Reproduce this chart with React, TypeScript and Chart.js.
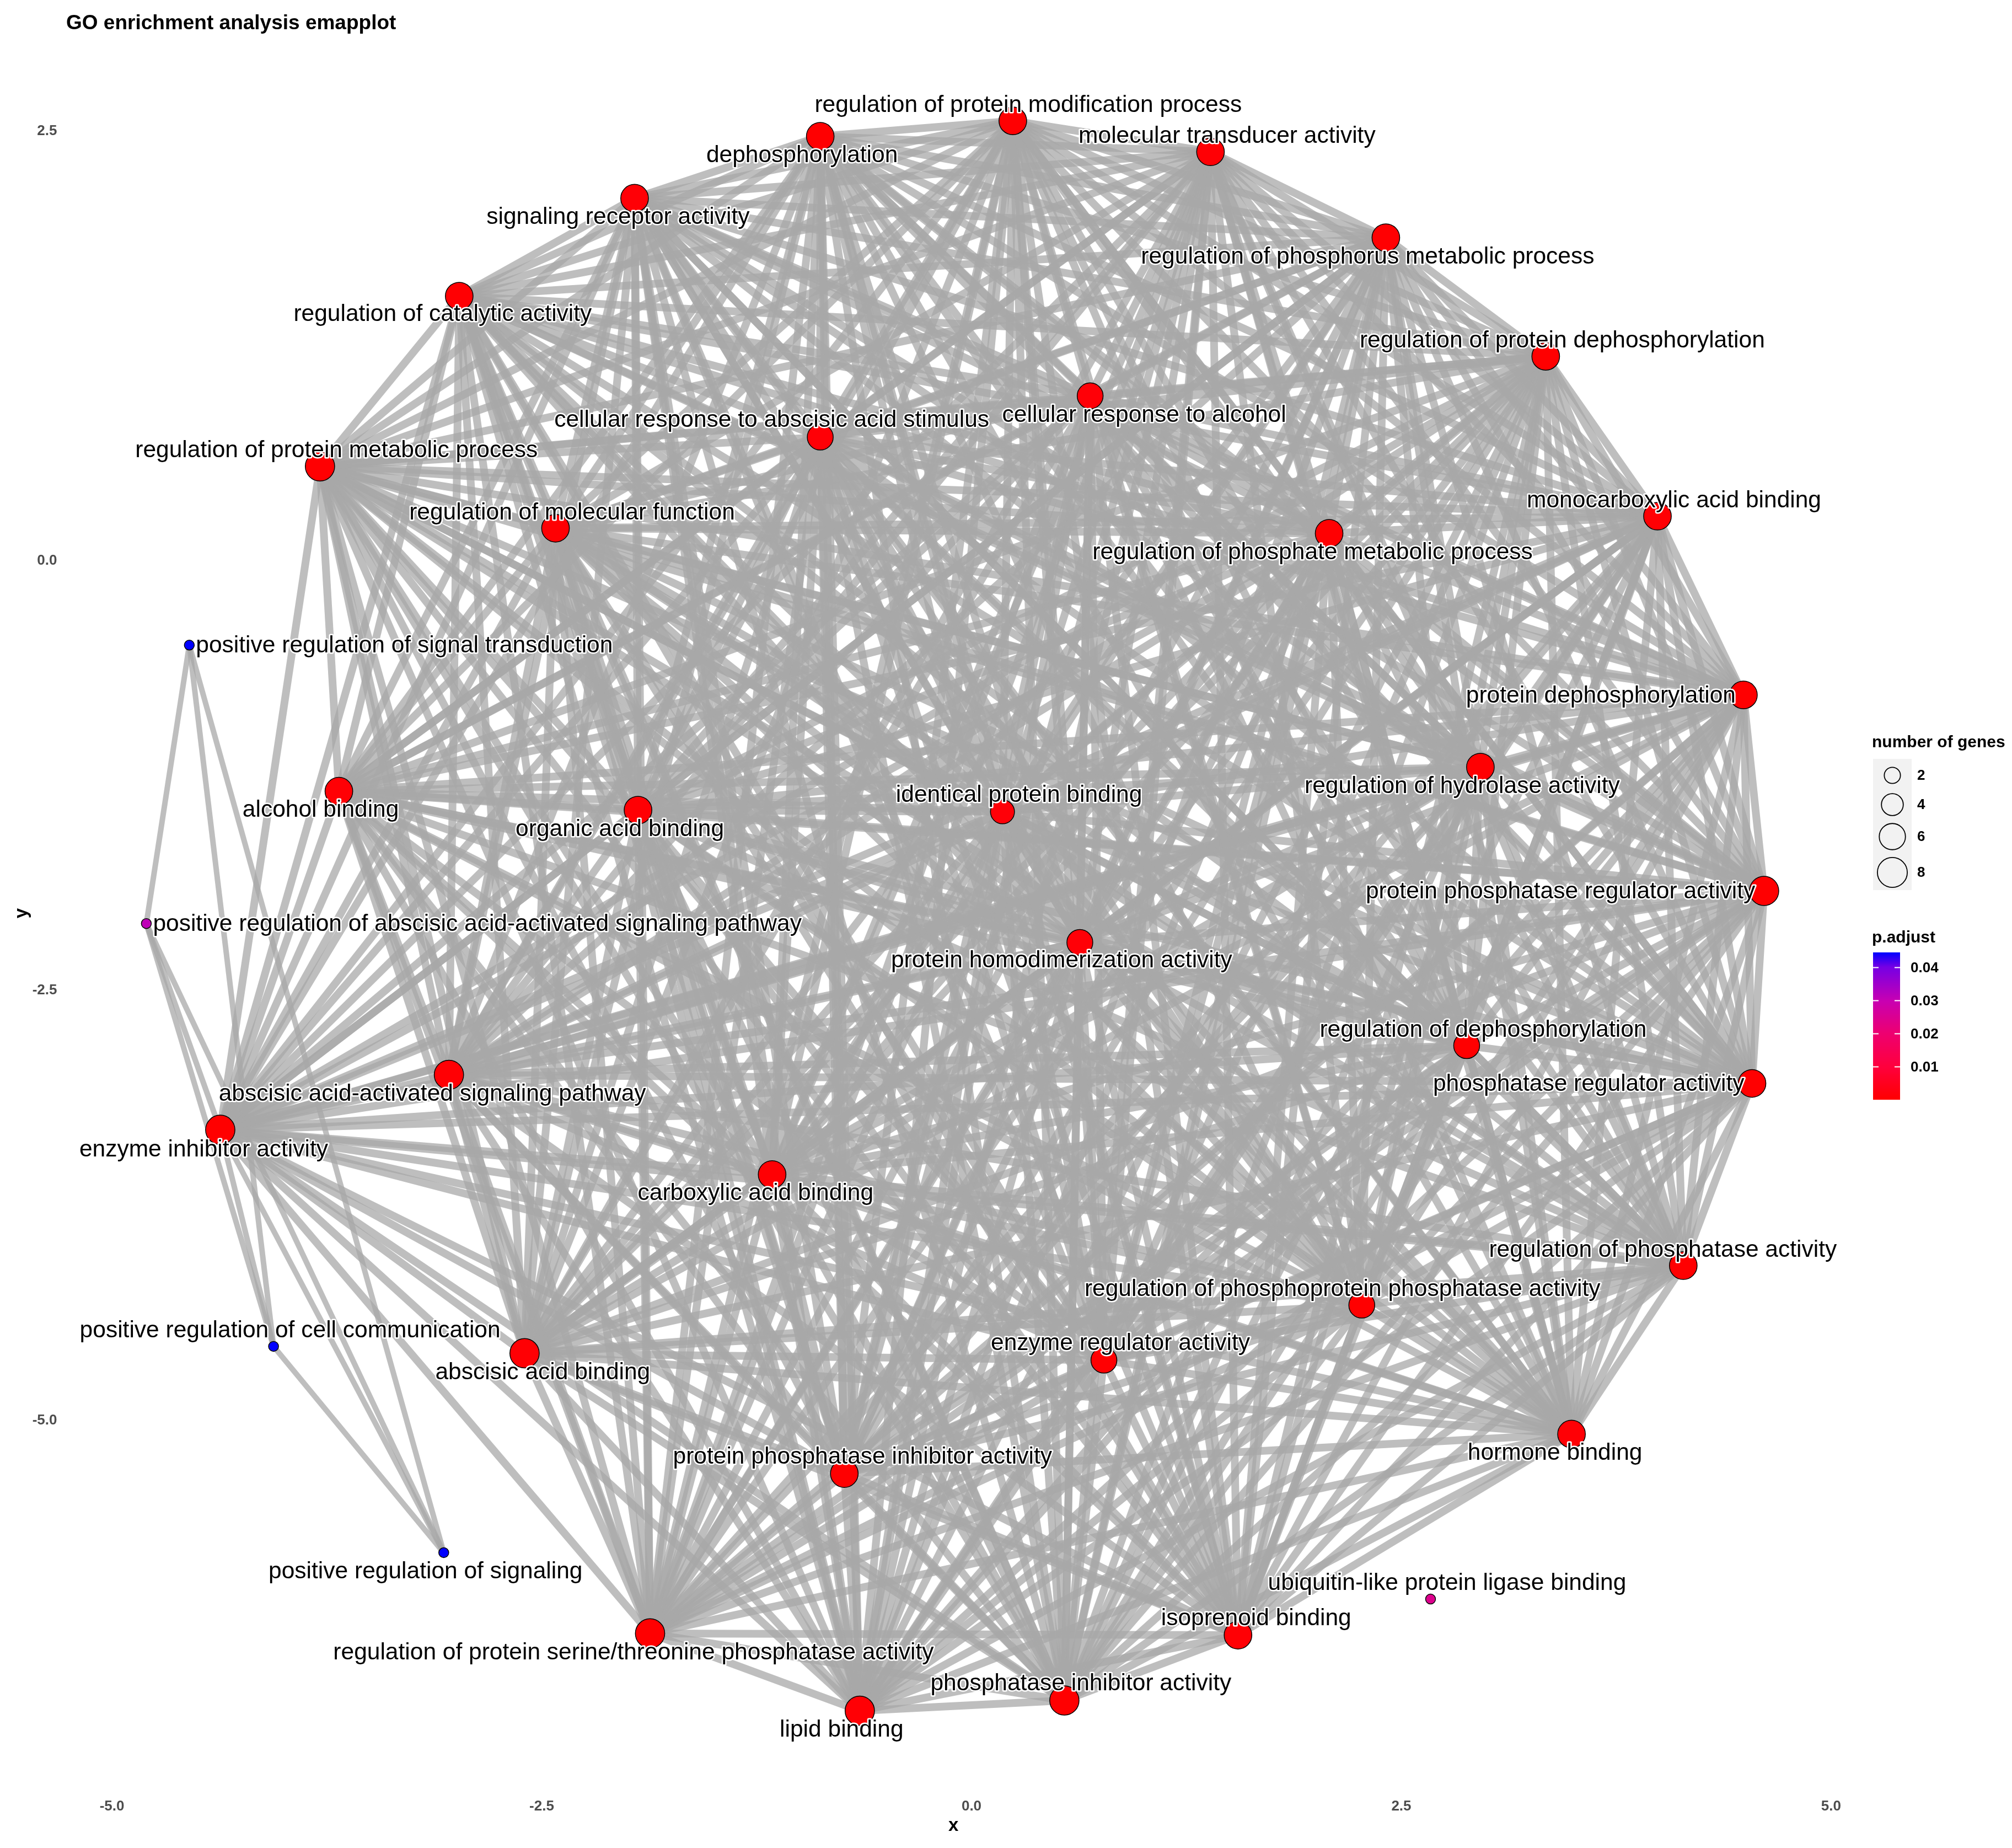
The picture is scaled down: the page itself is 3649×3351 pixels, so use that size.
import React, { useEffect, useRef } from "react";
import { Chart, registerables } from "chart.js";

Chart.register(...registerables);

const FONT = "'Liberation Sans', Arial, Helvetica, sans-serif";

// ---------------- DATA ----------------
const chartTitle = "GO enrichment analysis emapplot";

const termNames: string[] = [
  "regulation of protein modification process",
  "molecular transducer activity",
  "dephosphorylation",
  "signaling receptor activity",
  "regulation of phosphorus metabolic process",
  "regulation of catalytic activity",
  "regulation of protein dephosphorylation",
  "cellular response to alcohol",
  "cellular response to abscisic acid stimulus",
  "regulation of protein metabolic process",
  "regulation of molecular function",
  "regulation of phosphate metabolic process",
  "monocarboxylic acid binding",
  "positive regulation of signal transduction",
  "protein dephosphorylation",
  "regulation of hydrolase activity",
  "alcohol binding",
  "organic acid binding",
  "identical protein binding",
  "protein phosphatase regulator activity",
  "positive regulation of abscisic acid-activated signaling pathway",
  "protein homodimerization activity",
  "regulation of dephosphorylation",
  "abscisic acid-activated signaling pathway",
  "phosphatase regulator activity",
  "enzyme inhibitor activity",
  "carboxylic acid binding",
  "regulation of phosphatase activity",
  "regulation of phosphoprotein phosphatase activity",
  "positive regulation of cell communication",
  "abscisic acid binding",
  "enzyme regulator activity",
  "hormone binding",
  "protein phosphatase inhibitor activity",
  "positive regulation of signaling",
  "ubiquitin-like protein ligase binding",
  "isoprenoid binding",
  "regulation of protein serine/threonine phosphatase activity",
  "phosphatase inhibitor activity",
  "lipid binding",
];

const termX: number[] = [
  0.24, 1.39, -0.88, -1.96, 2.41, -2.98, 3.34, 0.69, -0.88, -3.79,
  -2.42, 2.08, 3.99, -4.55, 4.49, 2.96, -3.68, -1.94, 0.18, 4.61,
  -4.8, 0.63, 2.88, -3.04, 4.54, -4.37, -1.16, 4.14, 2.27, -4.06,
  -2.6, 0.77, 3.49, -0.74, -3.07, 2.67, 1.55, -1.87, 0.54, -0.65,
];

const termY: number[] = [
  2.56, 2.38, 2.47, 2.11, 1.88, 1.54, 1.19, 0.96, 0.72, 0.55,
  0.19, 0.16, 0.26, -0.49, -0.78, -1.2, -1.34, -1.45, -1.46, -1.92,
  -2.11, -2.22, -2.82, -2.99, -3.04, -3.31, -3.57, -4.1, -4.33, -4.57,
  -4.61, -4.65, -5.08, -5.31, -5.77, -6.04, -6.25, -6.24, -6.63, -6.69,
];

const geneCount: number[] = [
  8, 8, 8, 8, 8, 8, 8, 7, 7, 9,
  8, 8, 8, 1, 8, 8, 8, 8, 6, 9,
  1, 7, 7, 9, 8, 9, 8, 8, 7, 1,
  9, 7, 8, 8, 1, 1, 8, 9, 9, 9,
];

const pAdjust: number[] = [
  0.0004, 0.0009, 0.0003, 0.0011, 0.0004, 0.0006, 0.0003, 0.0012, 0.0010, 0.0005,
  0.0006, 0.0004, 0.0008, 0.0446, 0.0003, 0.0005, 0.0009, 0.0008, 0.0014, 0.0002,
  0.0310, 0.0013, 0.0003, 0.0007, 0.0002, 0.0001, 0.0008, 0.0003, 0.0003, 0.0446,
  0.0007, 0.0005, 0.0009, 0.0002, 0.0446, 0.0245, 0.0009, 0.0002, 0.0002, 0.0009,
];

// terms outside the densely connected core cluster
const peripheralTerms: string[] = [
  "positive regulation of signal transduction",
  "positive regulation of abscisic acid-activated signaling pathway",
  "positive regulation of cell communication",
  "positive regulation of signaling",
  "ubiquitin-like protein ligase binding",
];

// edges attached to peripheral terms
const peripheralEdges: [string, string][] = [
  ["positive regulation of signal transduction", "positive regulation of abscisic acid-activated signaling pathway"],
  ["positive regulation of signal transduction", "positive regulation of cell communication"],
  ["positive regulation of signal transduction", "positive regulation of signaling"],
  ["positive regulation of abscisic acid-activated signaling pathway", "enzyme inhibitor activity"],
  ["positive regulation of abscisic acid-activated signaling pathway", "positive regulation of cell communication"],
  ["positive regulation of abscisic acid-activated signaling pathway", "positive regulation of signaling"],
  ["positive regulation of cell communication", "positive regulation of signaling"],
  ["enzyme inhibitor activity", "positive regulation of cell communication"],
  ["enzyme inhibitor activity", "positive regulation of signaling"],
];

const xTickValues: number[] = [-5, -2.5, 0, 2.5, 5];
const yTickValues: number[] = [-5, -2.5, 0, 2.5];
const sizeLegendCounts: number[] = [2, 4, 6, 8];
const colorLegendTicks: number[] = [0.01, 0.02, 0.03, 0.04];

// ---------------- STYLE / LAYOUT ----------------
// label offsets in pixels relative to node; align: c=center, l=left, r=right
const labelDx: number[] = [
  28, 30, -33, -30, -33, -30, 30, 98, -88, 30,
  30, -30, 30, 12, -14, -33, -33, -33, 30, -16,
  12, -33, 30, -30, -14, -30, -30, -37, -35, 30,
  33, 30, -30, 33, -33, 30, 33, -30, 30, -33,
];
const labelDy: number[] = [
  -28, -28, 35, 35, 35, 33, -28, 35, -30, -28,
  -28, 35, -28, 2, 2, 35, 35, 35, -30, 2,
  2, 33, -28, 35, 2, 37, 35, -28, -28, -28,
  35, -30, 35, -30, 35, -28, -30, 35, -30, 35,
];
const labelAlign: string[] = [
  "c", "c", "c", "c", "c", "c", "c", "c", "c", "c",
  "c", "c", "c", "l", "r", "c", "c", "c", "c", "r",
  "l", "c", "c", "c", "r", "c", "c", "c", "c", "c",
  "c", "c", "c", "c", "c", "c", "c", "c", "c", "c",
];

const GRADIENT: [number, number[]][] = [
  [0, [255, 0, 0]],
  [0.22, [255, 0, 60]],
  [0.45, [238, 0, 112]],
  [0.67, [200, 0, 178]],
  [0.9, [118, 0, 228]],
  [1, [0, 0, 255]],
];

const EDGE_COLOR = "rgba(168,168,168,0.75)";

export default function App() {
  const canvasRef = useRef<HTMLCanvasElement | null>(null);

  useEffect(() => {
    const canvas = canvasRef.current;
    if (!canvas) return;

    const pMin = Math.min(...pAdjust);
    const pMax = Math.max(...pAdjust);
    const colorOf = (p: number) => {
      const t = Math.max(0, Math.min(1, (p - pMin) / (pMax - pMin)));
      for (let i = 1; i < GRADIENT.length; i++) {
        const [t1, c1] = GRADIENT[i];
        const [t0, c0] = GRADIENT[i - 1];
        if (t <= t1) {
          const f = (t - t0) / (t1 - t0);
          const c = c0.map((v, k) => Math.round(v + (c1[k] - v) * f));
          return `rgb(${c[0]},${c[1]},${c[2]})`;
        }
      }
      return "rgb(0,0,255)";
    };
    const radiusOf = (c: number) => 9 + (Math.sqrt(c) - 1) * 8.8;

    const idx = new Map(termNames.map((n, i) => [n, i]));
    const core = termNames
      .map((_, i) => i)
      .filter((i) => !peripheralTerms.includes(termNames[i]));
    const pairs: [number, number, number][] = [];
    for (let a = 0; a < core.length; a++)
      for (let b = a + 1; b < core.length; b++) pairs.push([core[a], core[b], 14]);
    peripheralEdges.forEach(([a, b]) => pairs.push([idx.get(a)!, idx.get(b)!, 10]));

    const edgeDatasets = pairs.map(([a, b, w]) => ({
      type: "scatter" as const,
      data: [
        { x: termX[a], y: termY[a] },
        { x: termX[b], y: termY[b] },
      ],
      showLine: true,
      borderColor: EDGE_COLOR,
      borderWidth: w,
      pointRadius: 0,
      pointHoverRadius: 0,
      order: 1,
    }));

    const nodeDataset = {
      type: "scatter" as const,
      data: termNames.map((_, i) => ({ x: termX[i], y: termY[i] })),
      pointRadius: geneCount.map(radiusOf),
      pointHoverRadius: geneCount.map(radiusOf),
      pointBackgroundColor: pAdjust.map(colorOf),
      pointBorderColor: "#000000",
      pointBorderWidth: 1.5,
      showLine: false,
      order: 0,
    };

    const labelPlugin = {
      id: "termLabels",
      afterDatasetsDraw(chart: any) {
        const ctx: CanvasRenderingContext2D = chart.ctx;
        const xs = chart.scales.x;
        const ys = chart.scales.y;
        ctx.save();
        ctx.font = `42.5px ${FONT}`;
        ctx.textBaseline = "middle";
        ctx.lineJoin = "round";
        termNames.forEach((name, i) => {
          const px = xs.getPixelForValue(termX[i]) + labelDx[i];
          const py = ys.getPixelForValue(termY[i]) + labelDy[i];
          ctx.textAlign =
            labelAlign[i] === "l" ? "left" : labelAlign[i] === "r" ? "right" : "center";
          ctx.strokeStyle = "#ffffff";
          ctx.lineWidth = 5;
          ctx.strokeText(name, px, py);
          ctx.fillStyle = "#000000";
          ctx.fillText(name, px, py);
        });
        ctx.restore();
      },
    };

    const decorPlugin = {
      id: "decor",
      afterDraw(chart: any) {
        const ctx: CanvasRenderingContext2D = chart.ctx;
        ctx.save();
        // title
        ctx.fillStyle = "#000000";
        ctx.font = `bold 37px ${FONT}`;
        ctx.textAlign = "left";
        ctx.textBaseline = "alphabetic";
        ctx.fillText(chartTitle, 120, 53);

        // size legend
        ctx.textBaseline = "middle";
        ctx.font = `bold 30px ${FONT}`;
        ctx.fillText("number of genes", 3395, 1347);
        ctx.fillStyle = "#F2F2F2";
        ctx.fillRect(3397, 1376, 70, 238);
        const keyY = [1406, 1459, 1517, 1582];
        sizeLegendCounts.forEach((c, k) => {
          const r = radiusOf(c) + 2;
          ctx.beginPath();
          ctx.arc(3432, keyY[k], r, 0, Math.PI * 2);
          ctx.strokeStyle = "#000000";
          ctx.lineWidth = 1.8;
          ctx.stroke();
          ctx.fillStyle = "#000000";
          ctx.font = `bold 26px ${FONT}`;
          ctx.fillText(String(c), 3477, keyY[k] + 1);
        });

        // colour bar
        ctx.fillStyle = "#000000";
        ctx.font = `bold 30px ${FONT}`;
        ctx.fillText("p.adjust", 3395, 1701);
        const barX = 3397, barTop = 1727, barW = 49, barH = 267;
        const barBottom = barTop + barH;
        for (let yy = 0; yy < barH; yy++) {
          const p = pMin + ((barH - yy - 0.5) / barH) * (pMax - pMin);
          ctx.fillStyle = colorOf(p);
          ctx.fillRect(barX, barTop + yy, barW, 1.2);
        }
        colorLegendTicks.forEach((v) => {
          const ty = barBottom - ((v - pMin) / (pMax - pMin)) * barH;
          ctx.strokeStyle = "#ffffff";
          ctx.lineWidth = 2;
          ctx.beginPath();
          ctx.moveTo(barX, ty);
          ctx.lineTo(barX + 10, ty);
          ctx.moveTo(barX + barW - 10, ty);
          ctx.lineTo(barX + barW, ty);
          ctx.stroke();
          ctx.fillStyle = "#000000";
          ctx.font = `bold 26px ${FONT}`;
          ctx.fillText(v.toFixed(2), 3465, ty + 1);
        });
        ctx.restore();
      },
    };

    const tickFont = { family: FONT, size: 26, weight: "bold" as const };
    const titleFont = { family: FONT, size: 33, weight: "bold" as const };

    const chart = new Chart(canvas, {
      type: "scatter",
      data: { datasets: [nodeDataset as any, ...(edgeDatasets as any[])] },
      options: {
        animation: false,
        responsive: false,
        maintainAspectRatio: false,
        events: [],
        layout: { padding: { left: 0, right: 300, top: 82, bottom: 0 } },
        plugins: {
          legend: { display: false },
          tooltip: { enabled: false },
          title: { display: false },
        },
        scales: {
          x: {
            type: "linear",
            min: -5.3,
            max: 5.09,
            grid: { display: false, drawTicks: false, tickLength: 0 },
            border: { display: false },
            afterBuildTicks: (s: any) => {
              s.ticks = xTickValues.map((v) => ({ value: v }));
            },
            afterFit: (s: any) => {
              s.height = 121;
            },
            ticks: {
              autoSkip: false,
              maxRotation: 0,
              padding: 30,
              color: "#4D4D4D",
              font: tickFont,
              callback: (v: any) => Number(v).toFixed(1),
            },
            title: {
              display: true,
              text: "x",
              color: "#000000",
              font: titleFont,
              padding: { top: 0, bottom: 20 },
            },
          },
          y: {
            type: "linear",
            min: -7.1,
            max: 3.0,
            grid: { display: false, drawTicks: false, tickLength: 0 },
            border: { display: false },
            afterBuildTicks: (s: any) => {
              s.ticks = yTickValues.map((v) => ({ value: v }));
            },
            afterFit: (s: any) => {
              s.width = 109.5;
            },
            ticks: {
              autoSkip: false,
              padding: 6,
              color: "#4D4D4D",
              font: tickFont,
              callback: (v: any) => Number(v).toFixed(1),
            },
            title: {
              display: true,
              text: "y",
              color: "#000000",
              font: titleFont,
              padding: { top: 20, bottom: 0 },
            },
          },
        },
      },
      plugins: [labelPlugin, decorPlugin],
    });

    return () => chart.destroy();
  }, []);

  return (
    <div
      style={{
        position: "absolute",
        left: 0,
        top: 0,
        width: 3649,
        height: 3351,
        background: "#ffffff",
      }}
    >
      <canvas
        ref={canvasRef}
        width={3649}
        height={3351}
        style={{ display: "block", width: 3649, height: 3351 }}
      />
    </div>
  );
}
